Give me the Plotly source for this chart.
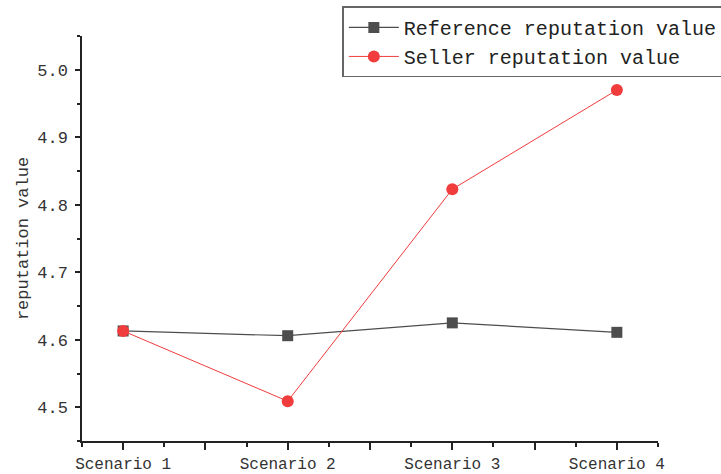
import plotly.graph_objects as go

categories = ["Scenario 1", "Scenario 2", "Scenario 3", "Scenario 4"]
reference_values = [4.613, 4.606, 4.625, 4.611]
seller_values = [4.613, 4.509, 4.823, 4.970]
y_tick_vals = [4.5, 4.6, 4.7, 4.8, 4.9, 5.0]
y_tick_text = ["4.5", "4.6", "4.7", "4.8", "4.9", "5.0"]

FONT = "Liberation Mono"
idx = list(range(len(categories)))

# major x ticks at categories and midpoints; labels only at categories
x_major = []
x_text = []
for i in idx:
    x_major.append(i)
    x_text.append(categories[i])
    if i < len(idx) - 1:
        x_major.append(i + 0.5)
        x_text.append("")
x_minor = [i - 0.25 for i in idx] + [i + 0.25 for i in idx]

fig = go.Figure()
fig.add_trace(go.Scatter(
    x=idx, y=reference_values, mode="lines+markers",
    name="Reference reputation value",
    line=dict(color="#4d4d4d", width=1.2),
    marker=dict(symbol="square", size=11, color="#4d4d4d"),
))
fig.add_trace(go.Scatter(
    x=idx, y=seller_values, mode="lines+markers",
    name="Seller reputation value",
    line=dict(color="#f03c3c", width=1),
    marker=dict(symbol="circle", size=12, color="#f03c3c"),
))

fig.update_layout(
    width=721, height=474,
    margin=dict(l=82, r=63, t=36, b=33, autoexpand=False),
    plot_bgcolor="white", paper_bgcolor="white",
    font=dict(family=FONT, size=16, color="#333333"),
    showlegend=True,
    legend=dict(
        x=0.452, y=1.073, xanchor="left", yanchor="top",
        bordercolor="#666666", borderwidth=1.5, bgcolor="white",
        font=dict(family=FONT, size=20, color="#222222"),
        tracegroupgap=0, itemsizing="trace", itemwidth=50,
    ),
)
fig.update_xaxes(
    range=[-0.25, 3.25], tickmode="array", tickvals=x_major, ticktext=x_text,
    automargin=False,
    showgrid=False, zeroline=False, showline=True, linecolor="#222222", linewidth=1.5,
    ticks="outside", ticklen=7, tickwidth=1.5, tickcolor="#222222",
    tickfont=dict(family=FONT, size=16, color="#333333"),
    minor=dict(tickmode="array", tickvals=x_minor, ticks="outside", ticklen=4,
               tickwidth=1.5, tickcolor="#222222"),
)
fig.update_yaxes(
    range=[4.45, 5.05], tickmode="array", tickvals=y_tick_vals, ticktext=y_tick_text,
    automargin=False,
    showgrid=False, zeroline=False, showline=True, linecolor="#222222", linewidth=1.5,
    ticks="outside", ticklen=5, tickwidth=1.5, tickcolor="#222222",
    ticklabelstandoff=4,
    tickfont=dict(family=FONT, size=17, color="#333333"),
    minor=dict(dtick=0.05, tick0=4.45, ticks="outside", ticklen=3,
               tickwidth=1.5, tickcolor="#222222"),
    title=dict(text="reputation value", font=dict(family=FONT, size=17, color="#333333"),
               standoff=4),
)

fig.write_html(
    "out.html",
    config={"displayModeBar": False},
    post_script="document.body.style.margin='0';document.body.style.overflow='hidden';",
)
